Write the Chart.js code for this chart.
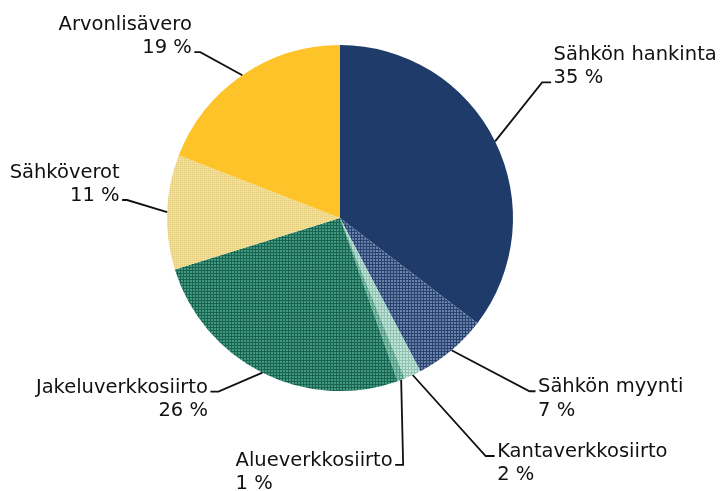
<!DOCTYPE html>
<html>
<head>
<meta charset="utf-8">
<script src="https://cdn.jsdelivr.net/npm/chart.js@4/dist/chart.umd.min.js"></script>
<style>
  body { margin: 0; background: #fff; }
  canvas { display: block; }
</style>
</head>
<body>
<canvas id="chart1" width="721" height="491"></canvas>
<script>
// Sähkön hinnan muodostuminen
const labels = ['Sähkön hankinta', 'Sähkön myynti', 'Kantaverkkosiirto', 'Alueverkkosiirto',
                'Jakeluverkkosiirto', 'Sähköverot', 'Arvonlisävero'];
const shares = [35.4, 6.9, 1.6, 0.7, 25.6, 10.7, 19.1];
const shareText = ['35 %', '7 %', '2 %', '1 %', '26 %', '11 %', '19 %'];

// fill patterns (base colour + grid line colour), null = solid
function makePattern(base, line, step) {
    const c = document.createElement('canvas');
    c.width = step; c.height = step;
    const g = c.getContext('2d');
    g.fillStyle = base;
    g.fillRect(0, 0, step, step);
    g.fillStyle = line;
    g.fillRect(0, 0, step, 1);
    g.fillRect(0, 0, 1, step);
    return g.createPattern(c, 'repeat');
}
const ctx = document.getElementById('chart1').getContext('2d');
const fills = [
    '#1f3b69',
    makePattern('#6a82a9', '#284270', 3),
    makePattern('#c3e2d8', '#8fc4b3', 3),
    makePattern('#8cc6b3', '#4f9a82', 3),
    makePattern('#42997f', '#186450', 3),
    makePattern('#f6e8ae', '#ead488', 2),
    '#fdc328'
];

// where each label goes, relative to the slice's outer edge
// ex/ey: end of the slanted leader, hook: horizontal tail, side: text block side,
// align: text alignment inside the block, row: which line sits on the leader
const labelLayout = [
    { ex: 47, ey: -59, hook: 9, side: 1, align: 'left', row: 1 },
    { ex: 78, ey: 41, hook: 6, side: 1, align: 'left', row: 0 },
    { ex: 73, ey: 81, hook: 9, side: 1, align: 'left', row: 0 },
    { ex: 2, ey: 85, hook: -8, side: -1, align: 'left', row: 0 },
    { ex: -44, ey: 19, hook: -8, side: -1, align: 'right', row: 0 },
    { ex: -40, ey: -12, hook: -5, side: -1, align: 'right', row: 1 },
    { ex: -42, ey: -23, hook: -6, side: -1, align: 'right', row: 1 }
];

const pieLabels = {
    id: 'pieLabels',
    afterDatasetsDraw(chart) {
        const c = chart.ctx;
        const arcs = chart.getDatasetMeta(0).data;
        c.save();
        c.font = '19.5px "DejaVu Sans", Verdana, sans-serif';
        c.fillStyle = '#111';
        c.strokeStyle = '#111';
        c.lineWidth = 1.8;
        c.textBaseline = 'alphabetic';
        arcs.forEach((arc, i) => {
            const lay = labelLayout[i];
            const mid = (arc.startAngle + arc.endAngle) / 2;
            const px = arc.x + Math.cos(mid) * arc.outerRadius;
            const py = arc.y + Math.sin(mid) * arc.outerRadius;
            const qx = px + lay.ex, qy = py + lay.ey;
            const hx = qx + lay.hook;
            c.beginPath();
            c.moveTo(px, py);
            c.lineTo(qx, qy);
            c.lineTo(hx, qy);
            c.stroke();

            const lines = [labels[i], shareText[i]];
            const w = Math.max(...lines.map(t => c.measureText(t).width));
            const gap = 2.5;
            const left = lay.side > 0 ? hx + gap : hx - gap - w;
            const lh = 23.5;
            const base0 = qy + 1 - lay.row * lh;
            lines.forEach((t, k) => {
                const tw = c.measureText(t).width;
                const x = lay.align === 'left' ? left : left + w - tw;
                c.fillText(t, x, base0 + k * lh);
            });
        });
        c.restore();
    }
};

new Chart(ctx, {
    type: 'pie',
    data: {
        labels: labels,
        datasets: [{
            data: shares,
            backgroundColor: fills,
            borderWidth: 0
        }]
    },
    options: {
        responsive: false,
        animation: false,
        layout: { padding: { left: 167, right: 208, top: 45, bottom: 100 } },
        plugins: {
            legend: { display: false },
            tooltip: { enabled: false }
        }
    },
    plugins: [pieLabels]
});
</script>
</body>
</html>
